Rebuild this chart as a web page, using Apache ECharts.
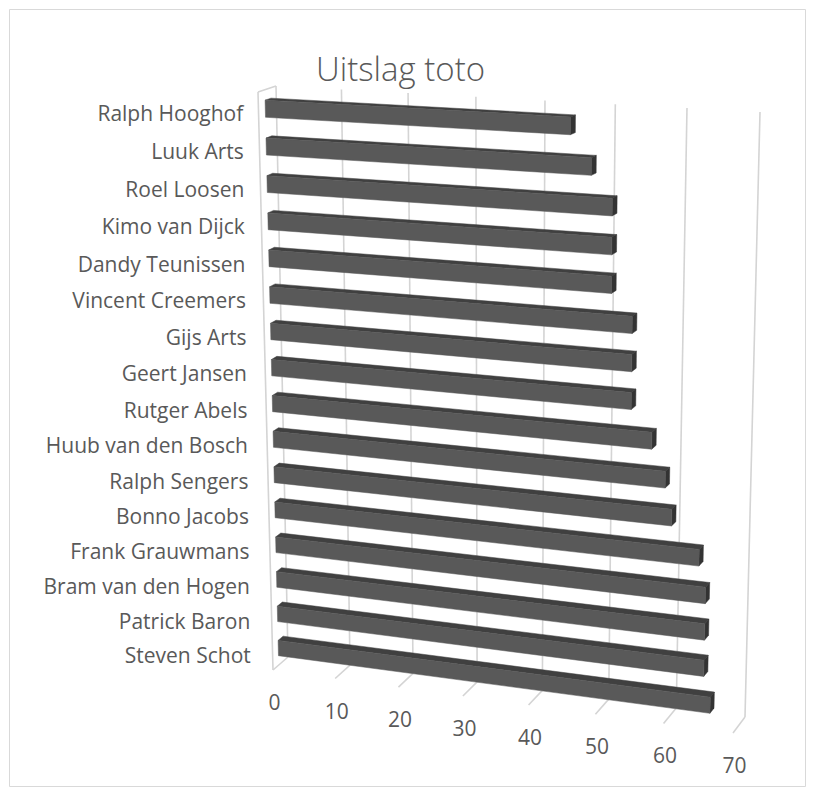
<!DOCTYPE html>
<html><head><meta charset="utf-8">
<script src="https://cdn.jsdelivr.net/npm/echarts@6/dist/echarts.min.js"></script>
<style>html,body{margin:0;padding:0;background:#fff}#chart{width:814px;height:792px}</style>
</head><body><div id="chart"></div>
<script>
// ---- data ----
const categories = ['Ralph Hooghof','Luuk Arts','Roel Loosen','Kimo van Dijck','Dandy Teunissen','Vincent Creemers','Gijs Arts','Geert Jansen','Rutger Abels','Huub van den Bosch','Ralph Sengers','Bonno Jacobs','Frank Grauwmans','Bram van den Hogen','Patrick Baron','Steven Schot'];
const scores = [45,48,51,51,51,54,54,54,57,59,60,64,65,65,65,66];
const valueTicks = [0,10,20,30,40,50,60,70];
const titleText = 'Uitslag toto';

// ---- 3D perspective layout (screen quads of back wall and front plane) ----
const BACK  = [[276,86],[760,112],[745,717],[288,657]];
const FRONT = [[258,92],[747,118],[733,733],[273,670]];
const BAR_FRONT = 0.62, BAR_BACK = 0.29, BAR_FRAC = 0.45;
const FONT = 'Open Sans';

function squareToQuad(q){
  const [x0,y0]=q[0],[x1,y1]=q[1],[x2,y2]=q[2],[x3,y3]=q[3];
  const sx=x0-x1+x2-x3, sy=y0-y1+y2-y3;
  let a,b,c,d,e,f,g,h;
  if (Math.abs(sx)<1e-9 && Math.abs(sy)<1e-9){a=x1-x0;b=x3-x0;c=x0;d=y1-y0;e=y3-y0;f=y0;g=0;h=0;}
  else{
    const dx1=x1-x2,dx2=x3-x2,dy1=y1-y2,dy2=y3-y2;
    const det=dx1*dy2-dx2*dy1;
    g=(sx*dy2-dx2*sy)/det; h=(dx1*sy-sx*dy1)/det;
    a=x1-x0+g*x1; b=x3-x0+h*x3; c=x0;
    d=y1-y0+g*y1; e=y3-y0+h*y3; f=y0;
  }
  return (u,v)=>{const z=g*u+h*v+1;return [(a*u+b*v+c)/z,(d*u+e*v+f)/z];};
}
const Hb = squareToQuad(BACK), Hf = squareToQuad(FRONT);
function P(u,w,dep){const b=Hb(u,w),f=Hf(u,w);return [b[0]+(f[0]-b[0])*dep,b[1]+(f[1]-b[1])*dep];}
function norm(pt,cs){return [(pt[0]-cs.x)/cs.width,(pt[1]-cs.y)/cs.height];}

const chart = echarts.init(document.getElementById('chart'), null, {renderer:'svg'});
const lineStyle = {stroke:'#d4d4d4', lineWidth:1.6};

chart.setOption({
  animation:false,
  backgroundColor:'#ffffff',
  title:{text:titleText,left:311,top:47,textStyle:{fontFamily:FONT,fontSize:33,fontWeight:300,color:'#595959'}},
  graphic:[{type:'rect',shape:{x:9.5,y:9.5,width:796,height:777},style:{fill:'none',stroke:'#d9d9d9',lineWidth:1},silent:true,z:-10}],
  grid:{left:0,right:0,top:0,bottom:0},
  xAxis:{type:'value',min:0,max:70,interval:10,show:false},
  yAxis:{type:'category',data:categories,inverse:true,show:false},
  series:[
    { // walls, gridlines and value labels
      type:'custom', z:1, silent:true,
      data: valueTicks.map(v=>[v,categories[0]]),
      encode:{x:0,y:1},
      renderItem:function(params,api){
        const cs=params.coordSys;
        const v=api.value(0);
        const u=norm(api.coord([v,categories[0]]),cs)[0];
        const kids=[];
        const seg=(p,q)=>({type:'line',shape:{x1:p[0],y1:p[1],x2:q[0],y2:q[1]},style:lineStyle});
        kids.push(seg(P(u,0,0),P(u,1,0)));
        kids.push(seg(P(u,1,0),P(u,1,1)));
        if (v===valueTicks[0]){
          kids.push(seg(P(u,0,1),P(u,1,1)));
          kids.push(seg(P(u,0,0),P(u,0,1)));
        }
        const lp=P(u,1,1);
        kids.push({type:'text',x:lp[0]+1.5,y:lp[1]+32,style:{text:String(v),fontFamily:FONT,fontSize:21,fill:'#595959',align:'center',verticalAlign:'middle'}});
        return {type:'group',children:kids};
      }
    },
    { // 3D bars
      type:'custom', z:2,
      data: scores.map((s,i)=>[s,categories[i]]),
      encode:{x:0,y:1},
      renderItem:function(params,api){
        const cs=params.coordSys;
        const cat=api.value(1);
        const s=norm(api.coord([0,cat]),cs), e=norm(api.coord([api.value(0),cat]),cs);
        const band=api.size([0,1])[1]/cs.height;
        const u0=s[0],u1=e[0],w1=s[1]-band*BAR_FRAC/2,w2=s[1]+band*BAR_FRAC/2;
        const poly=(pts,fill)=>({type:'polygon',shape:{points:pts},style:{fill:fill,stroke:fill,lineWidth:0.5}});
        return {type:'group',children:[
          poly([P(u0,w1,BAR_BACK),P(u1,w1,BAR_BACK),P(u1,w1,BAR_FRONT),P(u0,w1,BAR_FRONT)],'#404040'),
          poly([P(u1,w1,BAR_BACK),P(u1,w1,BAR_FRONT),P(u1,w2,BAR_FRONT),P(u1,w2,BAR_BACK)],'#333333'),
          poly([P(u0,w1,BAR_FRONT),P(u1,w1,BAR_FRONT),P(u1,w2,BAR_FRONT),P(u0,w2,BAR_FRONT)],'#595959')
        ]};
      }
    },
    { // category labels
      type:'custom', z:3, silent:true,
      data: categories.map(c=>[0,c]),
      encode:{x:0,y:1},
      renderItem:function(params,api){
        const cs=params.coordSys;
        const cat=api.value(1);
        const s=norm(api.coord([0,cat]),cs);
        const p=P(s[0],s[1],1);
        return {type:'text',x:p[0]-15-7*s[1],y:p[1]+2,style:{text:categories[params.dataIndex],fontFamily:FONT,fontSize:21,fill:'#595959',align:'right',verticalAlign:'middle'}};
      }
    }
  ]
});
</script></body></html>
